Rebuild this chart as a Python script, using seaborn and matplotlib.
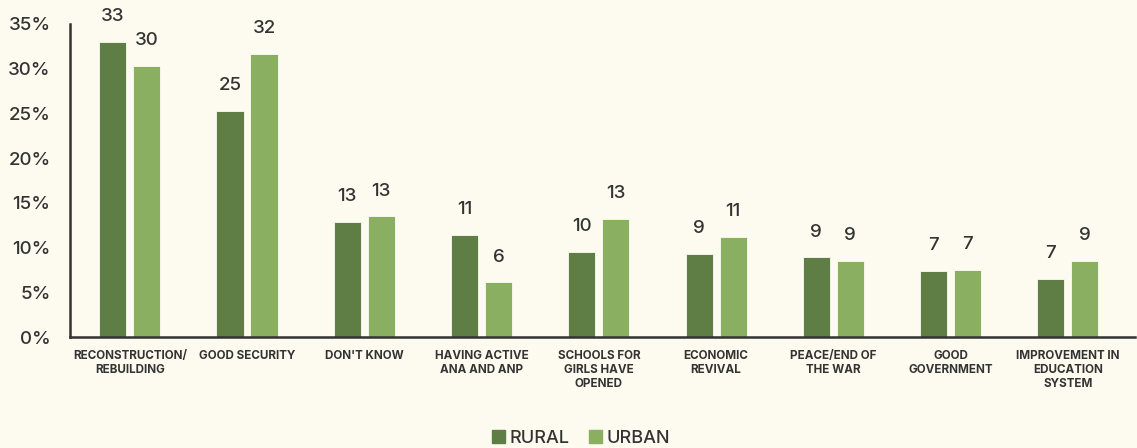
import matplotlib
matplotlib.use("Agg")
import matplotlib.pyplot as plt
import seaborn as sns
import pandas as pd

categories = ["RECONSTRUCTION/\nREBUILDING", "GOOD SECURITY", "DON'T KNOW",
              "HAVING ACTIVE\nANA AND ANP", "SCHOOLS FOR\nGIRLS HAVE\nOPENED",
              "ECONOMIC\nREVIVAL", "PEACE/END OF\nTHE WAR", "GOOD\nGOVERNMENT",
              "IMPROVEMENT IN\nEDUCATION\nSYSTEM"]
rural = [33.0, 25.3, 12.9, 11.4, 9.5, 9.3, 8.9, 7.4, 6.5]
urban = [30.3, 31.7, 13.5, 6.1, 13.2, 11.2, 8.5, 7.5, 8.5]
rural_labels = ["33", "25", "13", "11", "10", "9", "9", "7", "7"]
urban_labels = ["30", "32", "13", "6", "13", "11", "9", "7", "9"]
series = ["RURAL", "URBAN"]
yticks = [0, 5, 10, 15, 20, 25, 30, 35]

bg = "#FDFBF0"
colors = {"RURAL": "#5F7E45", "URBAN": "#8BAF61"}
txt = "#333333"

df = pd.DataFrame({
    "cat": categories * 2,
    "val": rural + urban,
    "series": ["RURAL"] * len(rural) + ["URBAN"] * len(urban),
})

sns.set_style("white")
plt.rcParams["font.family"] = ["Inter", "DejaVu Sans"]

fig = plt.figure(figsize=(11.37, 4.48), dpi=100, facecolor=bg)
ax = fig.add_axes([70/1137, 1-337/448, 1-70/1137-0.002, (337-24)/448])
ax.set_facecolor(bg)

sns.barplot(data=df, x="cat", y="val", hue="series", hue_order=series,
            palette=colors, width=0.58, gap=0.2, ax=ax, saturation=1,
            edgecolor=bg, linewidth=0.6)

labels_map = {"RURAL": rural_labels, "URBAN": urban_labels}
for cont, s in zip(ax.containers, series):
    for bar, lab in zip(cont, labels_map[s]):
        ax.annotate(lab, (bar.get_x() + bar.get_width()/2, bar.get_height()),
                    xytext=(0, 12), textcoords="offset points",
                    ha="center", va="bottom", fontsize=13.5, color=txt,
                    fontweight="medium", annotation_clip=False)

ax.set_ylim(0, 35)
ax.set_xlim(-0.51, 8.57)
ax.set_yticks(yticks)
ax.set_yticklabels([f"{v}%" for v in yticks], fontsize=13.5, color=txt,
                   fontweight="medium")
ax.set_xticks(range(len(categories)))
ax.set_xticklabels(categories, fontsize=8.4, fontweight="bold", color=txt,
                   linespacing=1.25)
ax.tick_params(axis="y", length=0, pad=14)
ax.tick_params(axis="x", length=0, pad=9)
ax.set_xlabel("")
ax.set_ylabel("")
for side in ["top", "right"]:
    ax.spines[side].set_visible(False)
for side in ["left", "bottom"]:
    ax.spines[side].set_color("#333333")
    ax.spines[side].set_linewidth(1.8)

ax.legend_.remove()
handles = [plt.Rectangle((0, 0), 1, 1, color=colors[s]) for s in series]
fig.legend(handles, series, loc="center", bbox_to_anchor=(581/1137, 1-438/448),
           ncol=2, frameon=False, fontsize=13, handlelength=0.72,
           handleheight=0.7, handletextpad=0.25, columnspacing=1.1,
           labelcolor=txt, prop={"weight": "medium", "size": 13})

fig.savefig("out.png", dpi=100, facecolor=bg)
